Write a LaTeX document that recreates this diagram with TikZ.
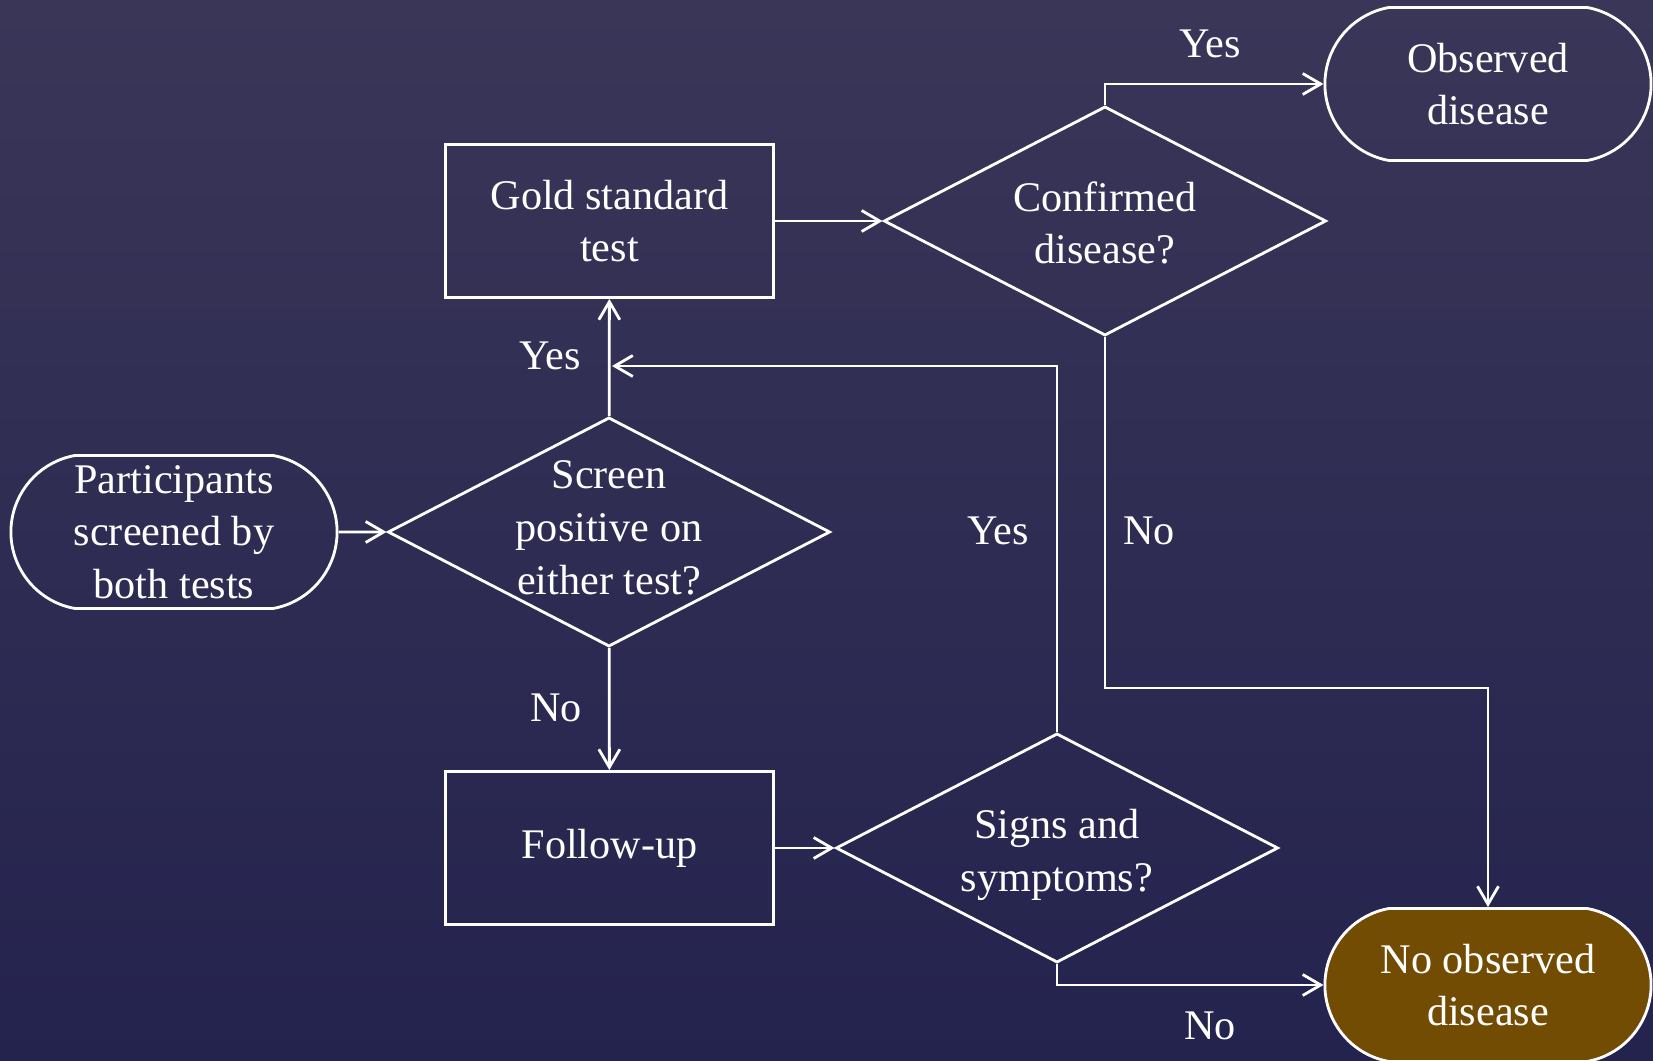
\documentclass[tikz,border=0pt]{standalone}
\usepackage{fontspec}
\setmainfont{Liberation Serif}
\usetikzlibrary{shapes.geometric,shapes.misc,arrows.meta}

\begin{document}
\begin{tikzpicture}[x=0.01cm,y=-0.01cm,font=\fontsize{12}{15}\selectfont,text=white,
  termnode/.style={rounded rectangle,rounded rectangle arc length=160,draw=white,line width=0.8pt,minimum width=3.26cm,minimum height=1.53cm,align=center,inner sep=0pt},
  boxnode/.style={rectangle,draw=white,line width=0.8pt,minimum width=3.27cm,minimum height=1.53cm,align=center},
  decnode/.style={diamond,draw=white,line width=0.8pt,minimum width=4.42cm,minimum height=2.29cm,inner sep=0pt},
  arr/.style={draw=white,line width=0.8pt,-{Straight Barb[length=0.18cm,width=0.21cm]}},
  lbltext/.style={inner sep=0pt}]
\definecolor{bgtop}{HTML}{3A3658}
\definecolor{bgbot}{HTML}{24234E}
\definecolor{umber}{HTML}{734C04}
\useasboundingbox (0,0) rectangle (1653,1061);
\shade[top color=bgtop,bottom color=bgbot] (0,0) rectangle (1653,1061);

\node [termnode] (part) at (174,532) {Participants\\screened by\\both tests};
\node [decnode,label={[align=center,yshift=0.04cm]center:Screen\\positive on\\either test?}] (screen) at (609,532) {};
\node [boxnode] (gold) at (609.5,221) {Gold standard\\test};
\node [decnode,label={[align=center,yshift=-0.02cm]center:Confirmed\\disease?}] (confirm) at (1105,221) {};
\node [termnode] (obs) at (1488,84) {Observed\\disease};
\node [boxnode] (follow) at (609.5,848) {Follow-up};
\node [decnode,label={[align=center,yshift=-0.07cm]center:Signs and\\symptoms?}] (signs) at (1057,848) {};
\node [termnode,fill=umber] (noobs) at (1488,985) {No observed\\disease};

\coordinate (noturn) at (1105,688);
\coordinate (loopin) at (612,366);

\draw [arr] (part) -- (screen);
\draw [arr] (screen) -- (gold);
\draw [arr] (screen) -- (follow);
\draw [arr] (gold) -- (confirm);
\draw [arr] (follow) -- (signs);
\draw [arr] (confirm.north) |- (obs.west);
\draw [arr] (confirm.south) -- (noturn) -| (noobs.north);
\draw [arr] (signs.north) |- (loopin);
\draw [arr] (signs.south) |- (noobs.west);

\foreach \txt/\px/\py [count=\n] in {Yes/550/356,No/556/708,Yes/1210/44,No/1149/531,Yes/998/531,No/1210/1026}
  {\node [lbltext] (lbl\n) at (\px,\py) {\txt};}
\end{tikzpicture}
\end{document}
